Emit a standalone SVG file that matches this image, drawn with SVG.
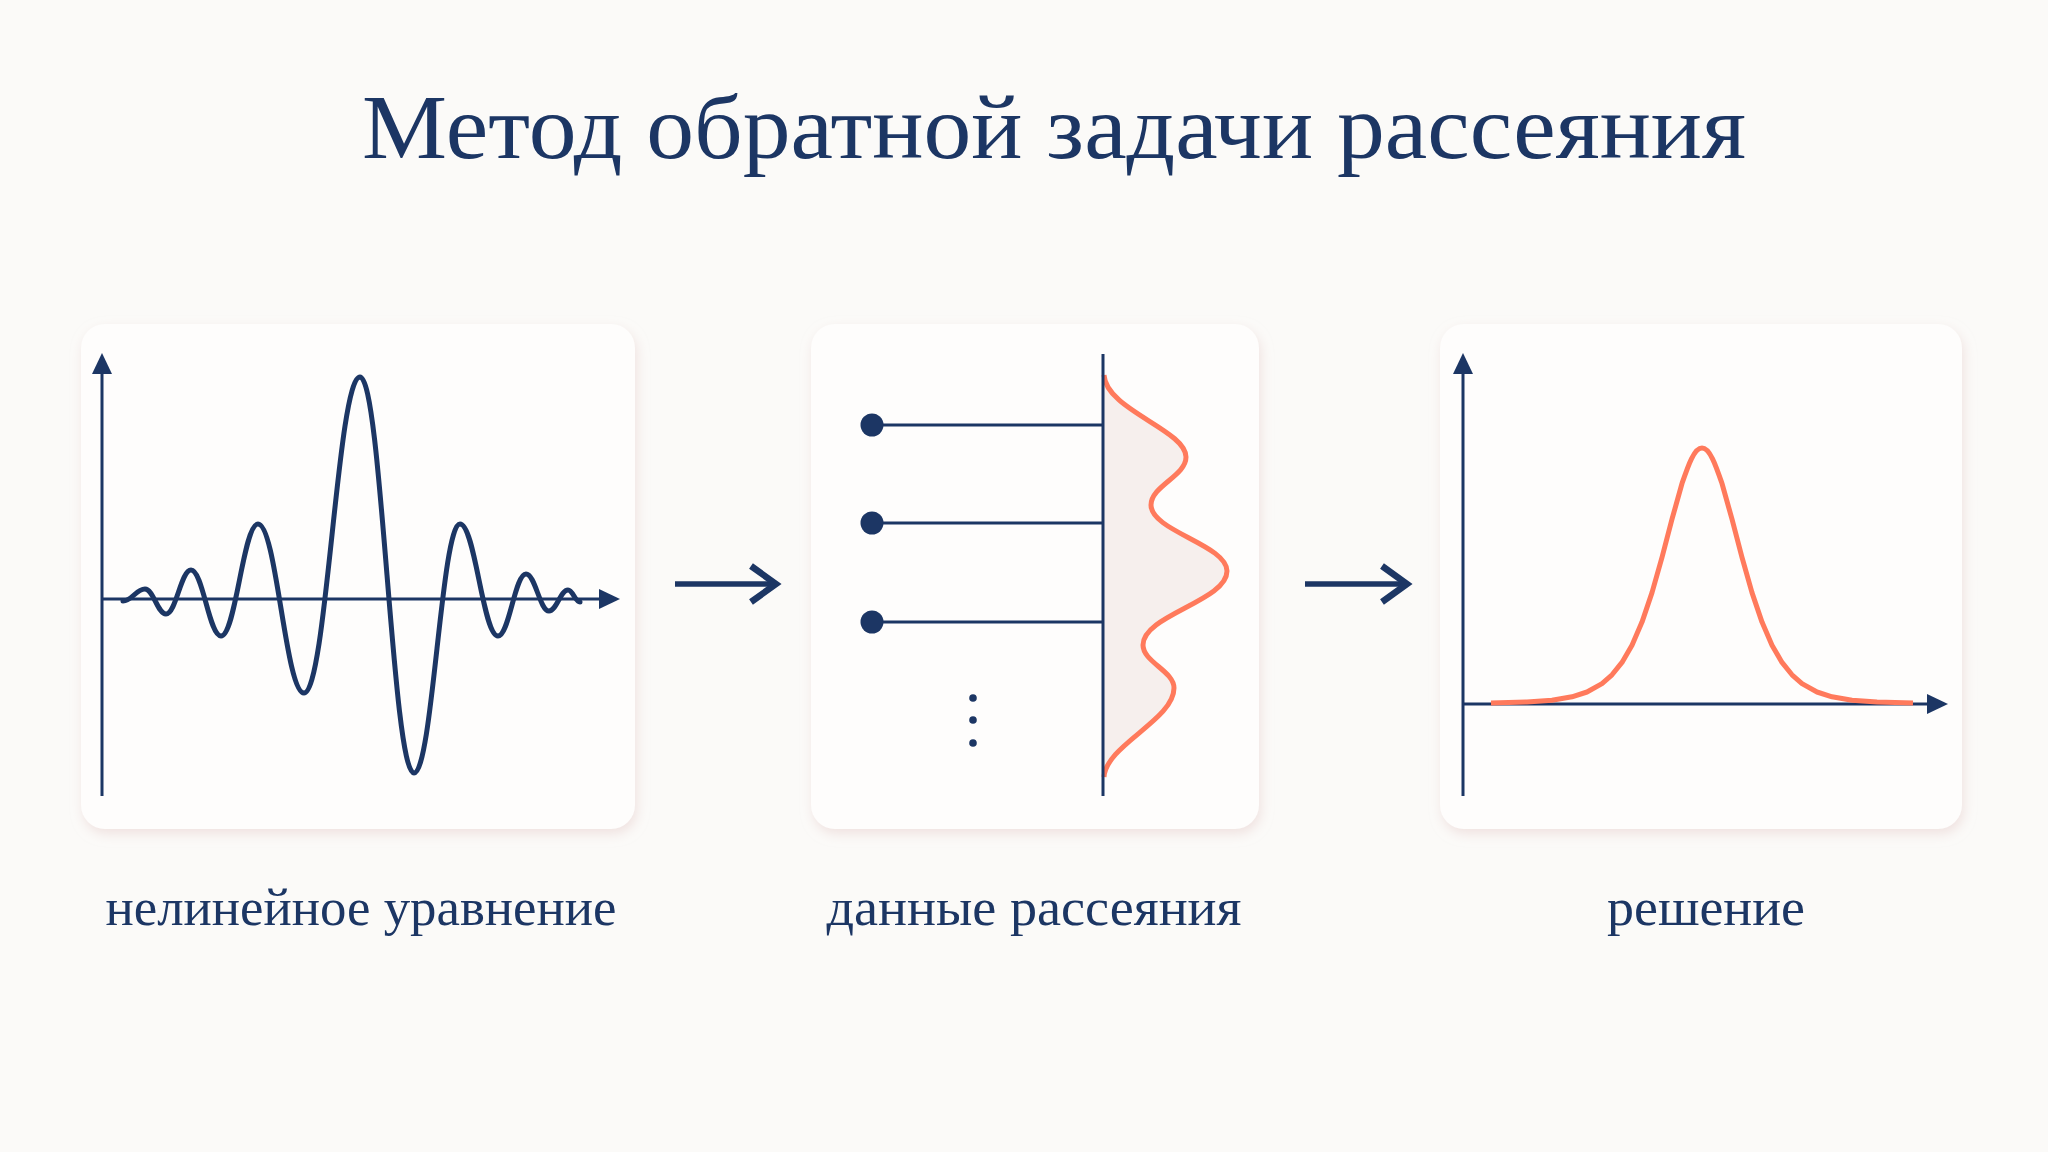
<svg xmlns="http://www.w3.org/2000/svg" width="2048" height="1152" viewBox="0 0 2048 1152">
<defs>
<filter id="sh" x="-10%" y="-10%" width="120%" height="125%">
<feDropShadow dx="2" dy="5" stdDeviation="6" flood-color="#e6cfcc" flood-opacity="0.55"/>
</filter>
</defs>
<style>
.panel{fill:#fefdfc;filter:url(#sh)}
.axis{stroke:#1c3664;stroke-width:3;fill:none}
.head{fill:#1c3664}
.wave{stroke:#1c3664;stroke-width:5;fill:none;stroke-linejoin:round;stroke-linecap:round}
.coral{stroke:#ff7a5c;stroke-width:5;fill:none;stroke-linejoin:round;stroke-linecap:butt}
.lbl{font-family:"Liberation Serif","DejaVu Serif",serif;fill:#1c3664;text-anchor:middle}
.conn{stroke:#1c3664;fill:none}
</style>
<rect width="2048" height="1152" fill="#fbfaf8"/>
<text class="lbl" x="1054" y="158" font-size="92" textLength="1384" lengthAdjust="spacingAndGlyphs">Метод обратной задачи рассеяния</text>

<g id="node-equation">
<rect class="panel" x="81" y="324" width="554" height="505" rx="24"/>
<line class="axis" x1="102" y1="372" x2="102" y2="796"/>
<polygon class="head" points="102,353 92,374 112,374"/>
<line class="axis" x1="102" y1="599" x2="601" y2="599"/>
<polygon class="head" points="620,599 599,589 599,609"/>
<path class="wave" d="M123,601 C132,601 136,589 145,589 C153.4,589 157.6,614 166,614 C176,614 181,570 191,570 C203,570 209,636 221,636 C235.8,636 243.2,524 258,524 C276.4,524 285.6,693 304,693 C326.4,693 337.6,377 360,377 C381.6,377 392.4,773 414,773 C432.4,773 441.6,524 460,524 C475.2,524 482.8,636 498,636 C509.2,636 514.8,574 526,574 C535.2,574 539.8,611 549,611 C556.6,611 560.4,590 568,590 C572.8,590 575.2,602 580,602"/>
<text class="lbl" x="361" y="925" font-size="52" textLength="511" lengthAdjust="spacingAndGlyphs">нелинейное уравнение</text>
</g>

<g id="node-scattering">
<rect class="panel" x="811" y="324" width="448" height="505" rx="24"/>
<path d="M1104,375 C1106,410 1186,430 1186,457 C1186,476 1151,486 1151,505 C1151,531 1227,545 1227,571 C1227,601 1143,615 1143,645 C1143,662 1174,671 1174,688 C1174,720 1106,745 1104,777 Z" fill="#f6efed"/>
<path class="coral" d="M1104,375 C1106,410 1186,430 1186,457 C1186,476 1151,486 1151,505 C1151,531 1227,545 1227,571 C1227,601 1143,615 1143,645 C1143,662 1174,671 1174,688 C1174,720 1106,745 1104,777"/>
<line class="axis" x1="1103" y1="354" x2="1103" y2="796"/>
<line class="axis" x1="872" y1="425" x2="1103" y2="425"/>
<line class="axis" x1="872" y1="523" x2="1103" y2="523"/>
<line class="axis" x1="872" y1="622" x2="1103" y2="622"/>
<circle class="head" cx="872" cy="425" r="11.5"/>
<circle class="head" cx="872" cy="523" r="11.5"/>
<circle class="head" cx="872" cy="622" r="11.5"/>
<circle class="head" cx="973" cy="698" r="3.8"/>
<circle class="head" cx="973" cy="720" r="3.8"/>
<circle class="head" cx="973" cy="743" r="3.8"/>
<text class="lbl" x="1034" y="925" font-size="52" textLength="415" lengthAdjust="spacingAndGlyphs">данные рассеяния</text>
</g>

<g id="node-solution">
<rect class="panel" x="1440" y="324" width="522" height="505" rx="24"/>
<line class="axis" x1="1463" y1="372" x2="1463" y2="796"/>
<polygon class="head" points="1463,353 1453,374 1473,374"/>
<line class="axis" x1="1463" y1="704" x2="1929" y2="704"/>
<polygon class="head" points="1948,704 1927,694 1927,714"/>
<path class="coral" d="M1491,703 L1527,702 L1552,700.2 L1572,696.8 L1587,692 L1602,683.6 L1612,674.8 L1622,662.4 L1632,645.2 L1642,622.1 L1652,592.6 L1662,557.4 L1672,519.2 L1682,483.5 C1688,466 1694,448 1702,448 C1710,448 1716,466 1722,483.5 L1732,519.2 L1742,557.4 L1752,592.6 L1762,622.1 L1772,645.2 L1782,662.4 L1792,674.8 L1802,683.6 L1817,692 L1832,696.8 L1852,700.2 L1877,702 L1913,703"/>
<text class="lbl" x="1706" y="925" font-size="52" textLength="198" lengthAdjust="spacingAndGlyphs">решение</text>
</g>

<g id="connectors">
<line class="conn" stroke-width="5.5" x1="675" y1="584" x2="774" y2="584"/>
<polyline class="conn" stroke-width="6.5" points="751,566 776,584 751,602"/>
<line class="conn" stroke-width="5.5" x1="1305" y1="584" x2="1406" y2="584"/>
<polyline class="conn" stroke-width="6.5" points="1382,566 1407,584 1382,602"/>
</g>
</svg>
